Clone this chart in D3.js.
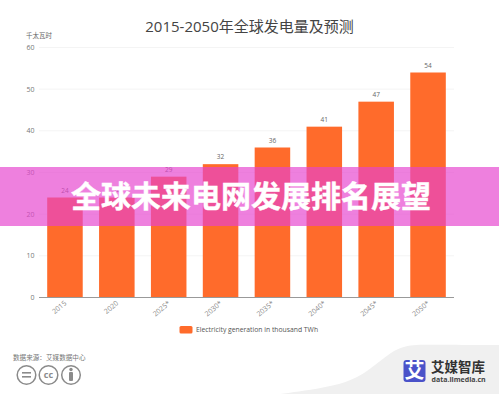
<!DOCTYPE html>
<html><head><meta charset="utf-8">
<script src="https://cdnjs.cloudflare.com/ajax/libs/d3/7.9.0/d3.min.js"></script>
<style>html,body{margin:0;padding:0;background:#fff}svg{display:block}text{font-family:"Open Sans","Noto Sans CJK SC",sans-serif}.cjk{font-family:"Noto Sans CJK SC",sans-serif}</style>
</head><body><svg id="c" width="499" height="394"></svg>
<script>
const categories=["2015","2020","2025*","2030*","2035*","2040*","2045*","2050*"];
const values=[24,24,29,32,36,41,47,54];
const yTicks=[0,10,20,30,40,50,60];
const seriesName="Electricity generation in thousand TWh";
const titleText="2015-2050年全球发电量及预测";
const unitText="千太瓦时";
const sourceText="数据来源：艾媒数据中心";
const bannerText="全球未来电网发展排名展望";
const brandName="艾媒智库";
const brandUrl="data.iimedia.cn";
const svg=d3.select("#c");
const x=d3.scaleBand().domain(categories).range([39,454]).paddingInner(0.315).paddingOuter(0.158);
const y=d3.scaleLinear().domain([0,60]).range([297.5,47.5]);
// watermark swoosh
svg.append("path").attr("d",d3.line().curve(d3.curveBasis)([[280,394],[340,386],[368,372],[392,350],[412,344],[440,345],[499,345]])+"L499,394Z").attr("fill","#f0f0f0");
// grid
svg.append("g").selectAll("line").data(yTicks.slice(1)).join("line")
 .attr("x1",39).attr("x2",454).attr("y1",d=>y(d)).attr("y2",d=>y(d)).attr("stroke","#f4f4f4").attr("stroke-width",1);
// y labels
svg.append("g").selectAll("text").data(yTicks).join("text")
 .attr("x",34.5).attr("y",d=>y(d)+2.5).attr("text-anchor","end").attr("font-size",7).attr("fill","#777").text(d=>d);
// bars
svg.append("g").selectAll("rect").data(values).join("rect")
 .attr("x",(d,i)=>x(categories[i])).attr("width",x.bandwidth()).attr("y",d=>y(d)).attr("height",d=>y(0)-y(d)).attr("fill","#ff6b2b");
// value labels
svg.append("g").selectAll("text").data(values).join("text")
 .attr("x",(d,i)=>x(categories[i])+x.bandwidth()/2).attr("y",d=>y(d)-5).attr("text-anchor","middle").attr("font-size",6.5).attr("fill","#666").text(d=>d);
// x axis
svg.append("line").attr("x1",39).attr("x2",454).attr("y1",297.5).attr("y2",297.5).attr("stroke","#999").attr("stroke-width",1);
svg.append("g").selectAll("text").data(categories).join("text")
 .attr("text-anchor","end").attr("font-size",7).attr("fill","#888")
 .attr("transform",d=>`translate(${x(d)+x.bandwidth()/2+2},304) rotate(-40)`).text(d=>d);
// title etc
svg.append("text").attr("x",249.5).attr("y",31.5).attr("text-anchor","middle").attr("font-size",15).attr("fill","#444").text(titleText);
svg.append("text").attr("class","cjk").attr("x",26).attr("y",38).attr("font-size",6.5).attr("fill","#666").text(unitText);
// legend
svg.append("rect").attr("x",179.5).attr("y",326).attr("width",13).attr("height",7.5).attr("rx",1.5).attr("fill","#ff6b2b");
svg.append("text").attr("x",196).attr("y",331.5).attr("font-size",6.8).attr("fill","#555").text(seriesName);
// source
svg.append("text").attr("class","cjk").attr("x",13).attr("y",359.5).attr("font-size",6.6).attr("fill","#777").text(sourceText);
// cc icons
const iconCenters=[26.5,48.5,71];
const ig=svg.append("g").selectAll("g").data(iconCenters).join("g").attr("transform",d=>`translate(${d},375)`);
ig.append("circle").attr("r",9.3).attr("fill","none").attr("stroke","#8b8b8b").attr("stroke-width",1.5);
const ic=svg.append("g").attr("fill","#8b8b8b");
ic.append("rect").attr("x",iconCenters[0]-4.5).attr("y",372).attr("width",9).attr("height",1.6);
ic.append("rect").attr("x",iconCenters[0]-4.5).attr("y",376).attr("width",9).attr("height",1.6);
ic.append("text").attr("x",iconCenters[1]).attr("y",378).attr("text-anchor","middle").attr("font-size",9).attr("font-weight",700).text("cc");
ic.append("circle").attr("cx",iconCenters[2]).attr("cy",369.5).attr("r",1.7);
ic.append("rect").attr("x",iconCenters[2]-2).attr("y",372).attr("width",4).attr("height",9).attr("rx",1);
// brand
svg.append("rect").attr("x",403.5).attr("y",360).attr("width",22).attr("height",22).attr("rx",3).attr("fill","#4a52c9");
svg.append("text").attr("class","cjk").attr("x",414.5).attr("y",377.5).attr("text-anchor","middle").attr("font-size",20).attr("font-weight",700).attr("fill","#fff").text("艾");
svg.append("text").attr("class","cjk").attr("x",431).attr("y",372).attr("font-size",13.5).attr("font-weight",700).attr("fill","#333").text(brandName);
svg.append("text").attr("x",431.5).attr("y",381.5).attr("font-size",7).attr("font-weight",700).attr("fill","#444").text(brandUrl);
// banner
svg.append("rect").attr("x",0).attr("y",167).attr("width",499).attr("height",59).attr("fill","rgb(230,68,206)").attr("fill-opacity",0.68);
svg.append("text").attr("class","cjk").attr("x",251).attr("y",207).attr("text-anchor","middle").attr("font-size",30).attr("font-weight",700).attr("fill","#fff").attr("stroke","#fff").attr("stroke-width",0.4).text(bannerText);
</script></body></html>
